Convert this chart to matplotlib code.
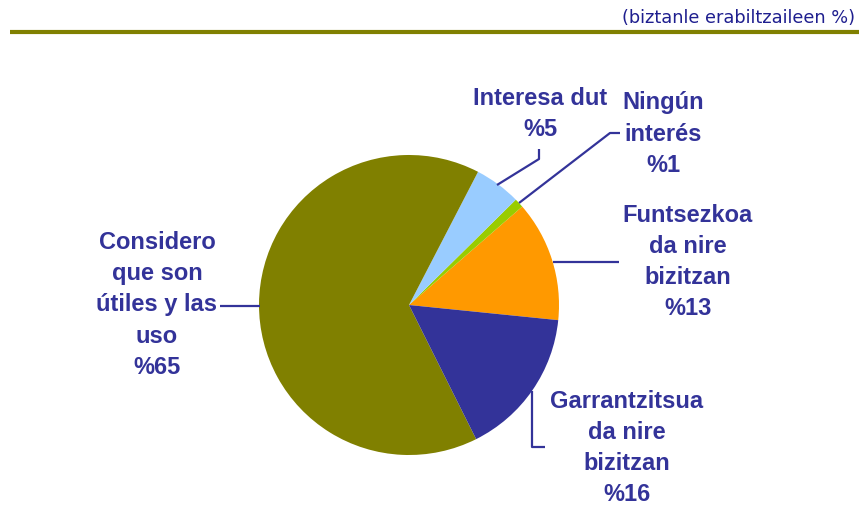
#!/usr/bin/env python3

import matplotlib

matplotlib.use("Agg")
import matplotlib.pyplot as plt

# Data, counter-clockwise from the orange slice
LABELS = [
    "Funtsezkoa\nda nire\nbizitzan",
    "Ningún\ninterés",
    "Interesa dut",
    "Considero\nque son\nútiles y las\nuso",
    "Garrantzitsua\nda nire\nbizitzan",
]
VALUES = [13, 1, 5, 65, 16]
COLORS = ["#FF9900", "#99CC00", "#99CCFF", "#808000", "#333399"]

TITLE = "(biztanle erabiltzaileen %)"
TEXT_COLOR = "#333399"

# Label placement (pixel coords, y down) and leader lines
LABEL_POS = [(688, 262), (663, 134), (540, 114), (157, 305), (627, 448)]
LEADERS = [
    [(553, 263), (619, 263)],
    [(519, 204), (610, 134), (620, 134)],
    [(497, 186), (539, 160), (539, 150)],
    [(220, 307), (260, 307)],
    [(532, 392), (532, 448), (545, 448)],
]

W, H = 859, 506
DPI = 100


def main():
    figure = plt.figure(figsize=(W / DPI, H / DPI), dpi=DPI)
    axis = figure.add_axes([0, 0, 1, 1])

    # y axis is inverted, so counterclock=False draws counter-clockwise on screen
    axis.pie(
        VALUES,
        colors=COLORS,
        center=(409, 306),
        radius=150,
        startangle=5.8,
        counterclock=False,
        wedgeprops={"linewidth": 0},
        frame=True,
    )
    axis.set_xlim(0, W)
    axis.set_ylim(H, 0)
    axis.set_aspect("equal")
    axis.axis("off")

    for label, value, (x, y) in zip(LABELS, VALUES, LABEL_POS):
        axis.text(
            x,
            y,
            f"{label}\n%{value}",
            ha="center",
            va="center",
            color=TEXT_COLOR,
            fontsize=17,
            fontweight="bold",
            family="Liberation Sans",
            linespacing=1.45,
        )

    for points in LEADERS:
        xs, ys = zip(*points)
        axis.plot(xs, ys, color=TEXT_COLOR, linewidth=1.6, solid_capstyle="butt")

    # header rule and unit note
    axis.plot([10, W], [33, 33], color="#808000", linewidth=3, solid_capstyle="butt")
    axis.text(
        855,
        18,
        TITLE,
        ha="right",
        va="center",
        color="#1F1F8F",
        fontsize=12.8,
        family="DejaVu Sans",
    )

    figure.savefig("out.png", dpi=DPI)


if __name__ == "__main__":
    main()
